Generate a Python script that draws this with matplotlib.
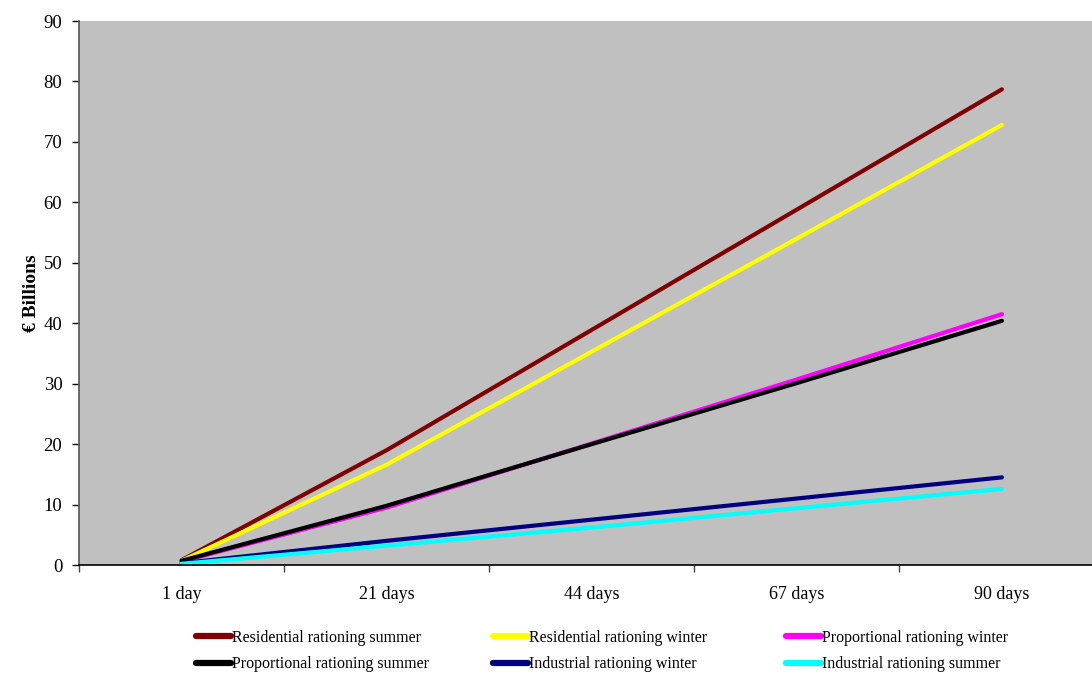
import matplotlib
matplotlib.use("Agg")
import matplotlib.pyplot as plt
from matplotlib.lines import Line2D

categories = ["1 day", "21 days", "44 days", "67 days", "90 days"]
res_summer = [0.8, 19.0, 38.9, 58.8, 78.7]
res_winter = [0.7, 16.6, 35.3, 54.0, 72.8]
prop_winter = [0.6, 9.5, 20.1, 30.7, 41.5]
prop_summer = [0.7, 9.8, 20.0, 30.1, 40.4]
ind_winter = [0.3, 4.0, 7.5, 11.0, 14.5]
ind_summer = [0.2, 3.2, 6.2, 9.4, 12.6]

series = [
    ("Residential rationing summer", res_summer, "#800000"),
    ("Residential rationing winter", res_winter, "#FFFF00"),
    ("Proportional rationing winter", prop_winter, "#FF00FF"),
    ("Proportional rationing summer", prop_summer, "#000000"),
    ("Industrial rationing winter", ind_winter, "#000080"),
    ("Industrial rationing summer", ind_summer, "#00FFFF"),
]

plt.rcParams['font.family'] = ['Liberation Serif', 'DejaVu Serif']

W, H = 1092, 675
fig = plt.figure(figsize=(W / 100, H / 100), dpi=100)
ax = fig.add_axes([79 / W, 1 - 565 / H, (W - 79) / W, (565 - 21) / H])
ax.set_facecolor("#C0C0C0")

x = list(range(len(categories)))
handles = {}
for name, vals, col in series:
    ax.plot(x, vals, color=col, lw=3, solid_capstyle='round', solid_joinstyle='round')
    handles[name] = Line2D([], [], color=col, lw=4.5, solid_capstyle='round')

ax.set_xlim(-0.5, (W - 182) / 205)
ax.set_ylim(0, 90)
ax.set_yticks(range(0, 91, 10))
ax.tick_params(axis='y', direction='out', length=5, width=1, pad=7, labelsize=13.5, color='black')
ax.set_xticks(x)
ax.set_xticklabels(categories)
ax.set_xticks([-0.5, 0.5, 1.5, 2.5, 3.5], minor=True)
ax.tick_params(axis='x', which='major', length=0, pad=15, labelsize=13)
ax.tick_params(axis='x', which='minor', direction='out', length=5, width=1, color='#444444')

for s in ['top', 'right']:
    ax.spines[s].set_visible(False)
ax.spines['left'].set_color('#555555')
ax.spines['left'].set_linewidth(1.2)
ax.spines['bottom'].set_color('black')
ax.spines['bottom'].set_linewidth(1.2)

fig.text(32 / W, 1 - 293 / H, "€ Billions", rotation=90, ha='center', va='center',
         fontsize=14, fontweight='bold')

cols = [
    (196, ["Residential rationing summer", "Proportional rationing summer"]),
    (493, ["Residential rationing winter", "Industrial rationing winter"]),
    (786, ["Proportional rationing winter", "Industrial rationing summer"]),
]
for xpix, names in cols:
    fig.legend([handles[n] for n in names], names, loc='upper left',
               bbox_to_anchor=(xpix / W, 1 - 630 / H), frameon=False,
               fontsize=11.5, handlelength=2.2, handletextpad=0.05,
               labelspacing=0.65, borderpad=0, borderaxespad=0)

fig.savefig("out.png", dpi=100)
